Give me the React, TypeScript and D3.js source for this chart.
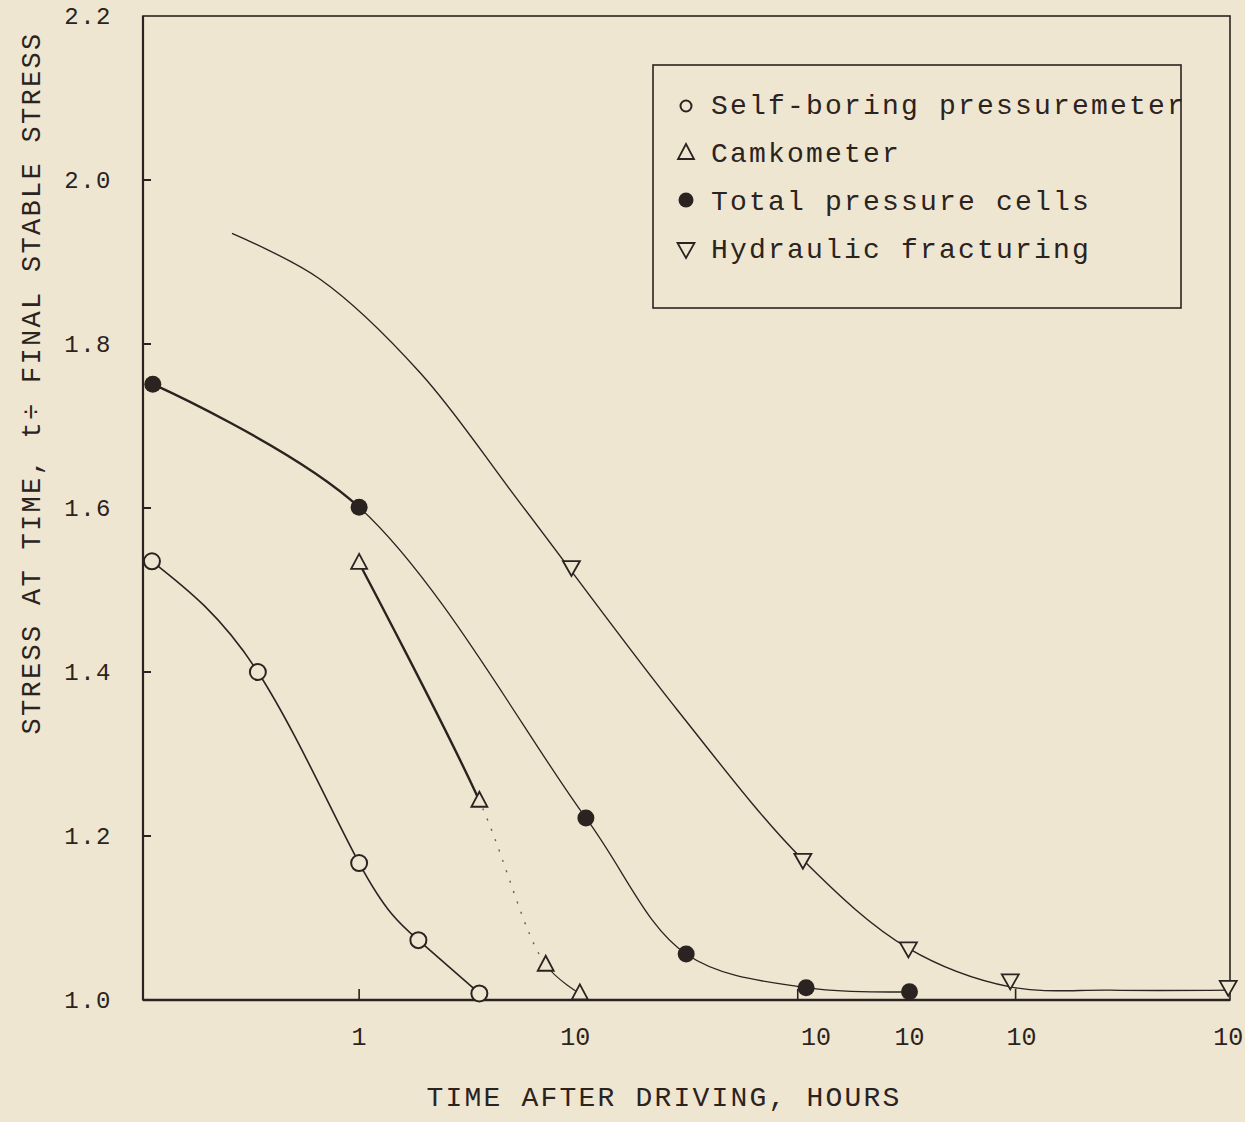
import React from "react";
import * as d3 from "d3";

// ---- data (time in hours, stress ratio) ----
const selfBoringT = [0.11, 0.34, 1, 1.88, 3.6];
const selfBoringS = [1.535, 1.4, 1.167, 1.073, 1.008];

const camkometerT = [1, 3.6, 7.3, 10.5];
const camkometerS = [1.533, 1.243, 1.043, 1.008];

const totalCellT = [0.111, 1, 11.2, 32.6, 117, 352];
const totalCellS = [1.751, 1.601, 1.222, 1.056, 1.015, 1.01];

const hydraulicT = [9.6, 113, 348, 1030, 10500];
const hydraulicS = [1.528, 1.171, 1.063, 1.024, 1.016];

// fitted curve drawn through the hydraulic fracturing points
const hydraulicCurveT = [0.258, 0.66, 1.915, 5.56, 29.6, 113, 348, 1030, 3000, 10500];
const hydraulicCurveS = [1.935, 1.879, 1.765, 1.606, 1.354, 1.171, 1.063, 1.016, 1.012, 1.012];

const yTicks = [1.0, 1.2, 1.4, 1.6, 1.8, 2.0, 2.2];
const xTickValues = [1, 10, 130, 352, 1160, 10500];
const xTickLabels = ["1", "10", "10", "10", "10", "10"];
const xTickMarks = [1, 10.6, 107, 1090];

const legendLabels = [
  "Self-boring pressuremeter",
  "Camkometer",
  "Total pressure cells",
  "Hydraulic fracturing",
];

const W = 1245;
const H = 1122;
const INK = "#2b2320";
const BG = "#efe6d2";
const FONT = "'Liberation Mono', 'DejaVu Sans Mono', monospace";

const L = 143, R = 1230, T = 16, B = 1000;

const x = d3.scaleLog().domain([0.1, 10700]).range([L, R]);
const y = d3.scaleLinear().domain([1.0, 2.2]).range([B, T]);

type P = [number, number];
const zip = (a: number[], b: number[]): P[] => a.map((v, i) => [v, b[i]]);

const mk = (curve: d3.CurveFactory) =>
  d3
    .line<P>()
    .x((d) => x(d[0]))
    .y((d) => y(d[1]))
    .curve(curve);
const catmull = mk(d3.curveCatmullRom.alpha(0.5));
const natural = mk(d3.curveNatural);

function Marker({ kind, cx, cy }: { kind: string; cx: number; cy: number }) {
  const r = 8;
  if (kind === "open")
    return <circle cx={cx} cy={cy} r={r} fill={BG} stroke={INK} strokeWidth={2} />;
  if (kind === "filled") return <circle cx={cx} cy={cy} r={r + 0.5} fill={INK} />;
  if (kind === "up") {
    const h = 15, w = 16;
    return (
      <path
        d={`M${cx},${cy - h * 0.6}L${cx + w / 2},${cy + h * 0.4}L${cx - w / 2},${cy + h * 0.4}Z`}
        fill={BG}
        stroke={INK}
        strokeWidth={1.8}
      />
    );
  }
  const h = 15, w = 17;
  return (
    <path
      d={`M${cx},${cy + h * 0.6}L${cx + w / 2},${cy - h * 0.4}L${cx - w / 2},${cy - h * 0.4}Z`}
      fill={BG}
      stroke={INK}
      strokeWidth={1.8}
    />
  );
}

export default function App() {
  const sb = zip(selfBoringT, selfBoringS);
  const cm = zip(camkometerT, camkometerS);
  const tc = zip(totalCellT, totalCellS);
  const hf = zip(hydraulicT, hydraulicS);
  const hfc = zip(hydraulicCurveT, hydraulicCurveS);

  const legendX = 653, legendY = 65, legendW = 528, legendH = 243;
  const legendRows = [105, 153, 201, 249];
  const legendKinds = ["open", "up", "filled", "down"];

  const tcSplit = x(totalCellT[1]);
  const cmA = x(camkometerT[1]);
  const cmB = x(camkometerT[2]);

  return (
    <svg
      width={W}
      height={H}
      style={{ position: "absolute", left: 0, top: 0 }}
      fontFamily={FONT}
    >
      <defs>
        <clipPath id="tcA"><rect x={0} y={0} width={tcSplit} height={H} /></clipPath>
        <clipPath id="tcB"><rect x={tcSplit} y={0} width={W} height={H} /></clipPath>
        <clipPath id="cmA"><rect x={0} y={0} width={cmA} height={H} /></clipPath>
        <clipPath id="cmB"><rect x={cmA} y={0} width={cmB - cmA} height={H} /></clipPath>
        <clipPath id="cmC"><rect x={cmB} y={0} width={W} height={H} /></clipPath>
      </defs>
      <rect x={0} y={0} width={W} height={H} fill={BG} />

      {/* frame */}
      <rect x={L} y={T} width={R - L} height={B - T} fill="none" stroke={INK} strokeWidth={1.6} />
      <line x1={L} x2={R} y1={B} y2={B} stroke={INK} strokeWidth={2.6} />
      <line x1={L} x2={L} y1={T} y2={B} stroke={INK} strokeWidth={2.2} />

      {/* y ticks */}
      {yTicks.map((v) => (
        <g key={v}>
          {v > 1.0 && v < 2.2 && (
            <line x1={L} x2={L + 8} y1={y(v)} y2={y(v)} stroke={INK} strokeWidth={2} />
          )}
          <text
            x={112}
            y={y(v) + 8}
            textAnchor="end"
            fontSize={24}
            letterSpacing={1.5}
            fill={INK}
          >
            {v.toFixed(1)}
          </text>
        </g>
      ))}

      {/* x ticks */}
      {xTickMarks.map((v) => (
        <line key={v} x1={x(v)} x2={x(v)} y1={B} y2={B - 11} stroke={INK} strokeWidth={1.6} />
      ))}
      {xTickValues.map((v, i) => (
        <text
          key={i}
          x={x(v)}
          y={1045}
          textAnchor="middle"
          fontSize={25}
          fill={INK}
        >
          {xTickLabels[i]}
        </text>
      ))}

      {/* axis titles */}
      <text
        x={664}
        y={1106}
        textAnchor="middle"
        fontSize={28}
        letterSpacing={2.2}
        fill={INK}
      >
        TIME AFTER DRIVING, HOURS
      </text>
      <text
        transform={`translate(40,383) rotate(-90)`}
        textAnchor="middle"
        fontSize={27}
        letterSpacing={2.3}
        fill={INK}
      >
        STRESS AT TIME, t÷ FINAL STABLE STRESS
      </text>

      {/* curves */}
      <path d={catmull(hfc) || ""} fill="none" stroke={INK} strokeWidth={1.4} />
      <path d={catmull(tc) || ""} fill="none" stroke={INK} strokeWidth={2.4} clipPath="url(#tcA)" />
      <path d={catmull(tc) || ""} fill="none" stroke={INK} strokeWidth={1.3} clipPath="url(#tcB)" />
      <path d={natural(sb) || ""} fill="none" stroke={INK} strokeWidth={1.6} />
      <path d={catmull(cm) || ""} fill="none" stroke={INK} strokeWidth={2.4} clipPath="url(#cmA)" />
      <path
        d={catmull(cm) || ""}
        fill="none"
        stroke={INK}
        strokeWidth={1.4}
        strokeDasharray="2 9"
        opacity={0.7}
        clipPath="url(#cmB)"
      />
      <path d={catmull(cm) || ""} fill="none" stroke={INK} strokeWidth={1.2} clipPath="url(#cmC)" />

      {/* markers */}
      {sb.map((d, i) => (
        <Marker key={"sb" + i} kind="open" cx={x(d[0])} cy={y(d[1])} />
      ))}
      {cm.map((d, i) => (
        <Marker key={"cm" + i} kind="up" cx={x(d[0])} cy={y(d[1])} />
      ))}
      {tc.map((d, i) => (
        <Marker key={"tc" + i} kind="filled" cx={x(d[0])} cy={y(d[1])} />
      ))}
      {hf.map((d, i) => (
        <Marker key={"hf" + i} kind="down" cx={x(d[0])} cy={y(d[1])} />
      ))}

      {/* legend */}
      <rect
        x={legendX}
        y={legendY}
        width={legendW}
        height={legendH}
        fill={BG}
        stroke={INK}
        strokeWidth={1.6}
      />
      {legendLabels.map((lab, i) => {
        const cy = legendRows[i];
        const k = legendKinds[i];
        return (
          <g key={lab}>
            {k === "open" ? (
              <circle cx={686} cy={cy + 1} r={5.5} fill="none" stroke={INK} strokeWidth={2} />
            ) : k === "filled" ? (
              <circle cx={686} cy={cy - 1} r={7.5} fill={INK} />
            ) : (
              <Marker kind={k} cx={686} cy={cy} />
            )}
            <text x={711} y={cy + 9} fontSize={28} letterSpacing={2.2} fill={INK}>
              {lab}
            </text>
          </g>
        );
      })}
    </svg>
  );
}
